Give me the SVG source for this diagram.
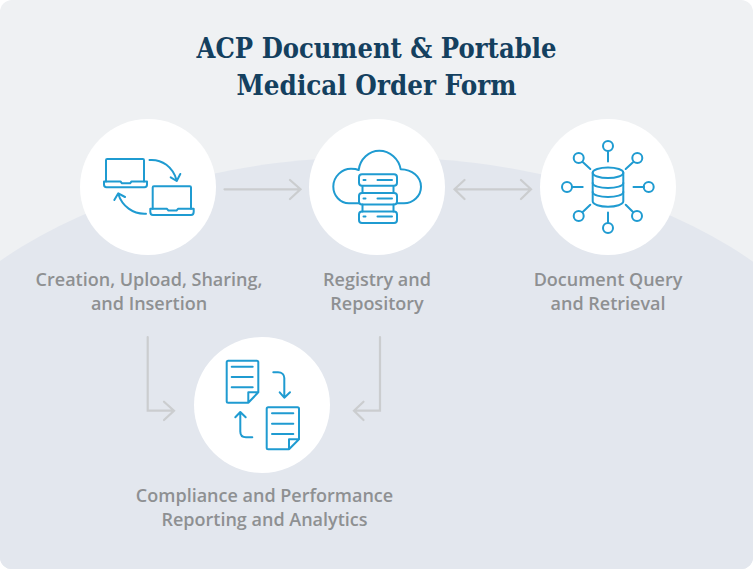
<svg xmlns="http://www.w3.org/2000/svg" width="753" height="569" viewBox="0 0 753 569">
<style>
.ttl{font-family:"DejaVu Serif","Liberation Serif",serif;font-weight:700;font-size:28px;fill:#14405f;text-anchor:middle}
.lbl{font-family:"Open Sans","Noto Sans",sans-serif;font-weight:600;font-size:18px;fill:#8e9092;text-anchor:middle}
.disc{fill:#fff}
.ic{fill:none;stroke:#1f9bd1;stroke-width:2;stroke-linecap:round;stroke-linejoin:round}
.cn{fill:none;stroke:#cbcdcf;stroke-width:2.2;stroke-linecap:round;stroke-linejoin:miter}
</style>
<defs><clipPath id="card"><rect width="753" height="569" rx="12"/></clipPath></defs>
<g clip-path="url(#card)">
<rect width="753" height="569" fill="#eff1f3"/>
<ellipse cx="376" cy="462" rx="500" ry="305" fill="#e3e7ee"/>
<rect y="462" width="753" height="107" fill="#e3e7ee"/>
</g>
<text class="ttl" x="376.500" y="58" textLength="360" lengthAdjust="spacingAndGlyphs">ACP Document &amp; Portable</text>
<text class="ttl" x="376.500" y="95" textLength="280" lengthAdjust="spacingAndGlyphs">Medical Order Form</text>
<g id="connectors" class="cn">
<path d="M224.500 189.300H300M290 180L300.500 189.300L290 199"/>
<path d="M455 189.300H530.500M464.500 180L454.500 189.300L464.500 199M521 180L531 189.300L521 199"/>
<path d="M147.700 337V410.700H173.500M164 401.700L174 410.700L164 420"/>
<path d="M380 337V410.700H354.500M363.500 401.700L354 410.700L363.500 420"/>
</g>
<g id="node-creation">
<circle class="disc" cx="148" cy="187" r="68"/>
<g class="ic">
<path d="M106 181.500V160.200Q106 159 107.200 159H142.800Q144 159 144 160.200V181.500"/>
<path d="M104 181.500H120.500L122 183.300H130L131.500 181.500H147V184.500Q147 187.300 144.500 187.300H106.500Q104 187.300 104 184.500Z"/>
<path d="M152.700 208.800V187.500Q152.700 186.300 153.900 186.300H189.800Q191 186.300 191 187.500V208.800"/>
<path d="M150.300 208.800H167L168.500 210.600H176.500L178 208.800H193.700V211.800Q193.700 215 191 215H153Q150.300 215 150.300 211.800Z"/>
<path d="M149.500 160C162 159 173 167 176.700 180.500M170.700 177.300L176.700 181L180.300 174"/>
<path d="M146 213.700C133 214.500 122 206 118.300 194M114.300 200L118.300 193.300L125 197"/>
</g>
</g>
<g id="node-registry">
<circle class="disc" cx="377" cy="187" r="68"/>
<g class="ic">
<path d="M358.700 203.300H349C340 203.300 333.300 195.500 333.300 186.500C333.300 176.500 342 168.700 351 168.700C354 168.700 356.500 169 358.700 170C360 159 369 150.700 379.300 150.700C390 150.700 399 159 400.700 169.300C412 169.500 421 176.500 421 186.700C421 196 413 203.300 404 203.300H397"/>
<rect x="359" y="174.300" width="38" height="11.500" rx="3"/>
<rect x="359" y="193" width="38" height="11.500" rx="3"/>
<rect x="359" y="211.500" width="38" height="11.500" rx="3"/>
<path d="M362.500 186V193M393.500 186V193M362.500 204.500V211.500M393.500 204.500V211.500"/>
<path d="M363.500 180H365.500M377.500 180H392M363.500 198.500H365.500M377.500 198.500H392M363.500 216.500H365.500M377.500 216.500H392"/>
</g>
</g>
<g id="node-query">
<circle class="disc" cx="608" cy="187" r="68"/>
<g class="ic">
<ellipse cx="608" cy="172.700" rx="15.300" ry="5.300"/>
<path d="M592.700 172.700V201.300C592.700 204.500 600 206.700 608 206.700S623.300 204.500 623.300 201.300V172.700"/>
<path d="M592.700 183C592.700 186 600 188 608 188S623.300 186 623.300 183M592.700 192C592.700 195 600 197 608 197S623.300 195 623.300 192"/>
<circle cx="608" cy="146" r="5"/><circle cx="648.700" cy="187" r="5"/><circle cx="567" cy="187" r="5"/><circle cx="608" cy="228" r="5"/>
<circle cx="578.700" cy="158" r="5"/><circle cx="637.300" cy="158" r="5"/><circle cx="578.700" cy="216" r="5"/><circle cx="637" cy="216" r="5"/>
<path d="M608 151V161.500M633.500 187H644M572.300 187H582.700M608 212.500V222.800"/>
<path d="M582.700 162L590.300 169M633 162.300L625.700 169M582.700 212L590.300 204.700M633 212L625.700 204.700"/>
</g>
</g>
<g id="node-compliance">
<circle class="disc" cx="262" cy="405" r="68"/>
<g class="ic">
<path d="M248.300 402.700H228.200Q226.700 402.700 226.700 401.200V362.200Q226.700 360.700 228.200 360.700H256.800Q258.300 360.700 258.300 362.200V392.300ZM248.300 402.700V392.300H258.300"/>
<path d="M231.700 366.700H252.700M231.700 377H252.700M231.700 387.300H252.700"/>
<path d="M289 449.300H268.200Q266.700 449.300 266.700 447.800V408.800Q266.700 407.300 268.200 407.300H297.500Q299 407.300 299 408.800V439.300ZM289 449.300V439.300H299"/>
<path d="M272 413.300H293.300M272 423.700H293.300M272 434H293.300"/>
<path d="M273.300 372.300H278C282 372.300 284.300 375 284.300 378V397.500M279.700 392.300L284.300 397.700L290 392.300"/>
<path d="M252.300 437.300H246C242.500 437.300 240.300 435 240.300 431.500V412.300M235.300 417.300L240.300 412L245.700 417.300"/>
</g>
</g>
<g id="labels">
<text class="lbl" x="149" y="286">Creation, Upload, Sharing,</text>
<text class="lbl" x="149" y="310">and Insertion</text>
<text class="lbl" x="377" y="286">Registry and</text>
<text class="lbl" x="377" y="310">Repository</text>
<text class="lbl" x="608" y="286">Document Query</text>
<text class="lbl" x="608" y="310">and Retrieval</text>
<text class="lbl" x="264.500" y="502">Compliance and Performance</text>
<text class="lbl" x="264.500" y="526">Reporting and Analytics</text>
</g>
</svg>
